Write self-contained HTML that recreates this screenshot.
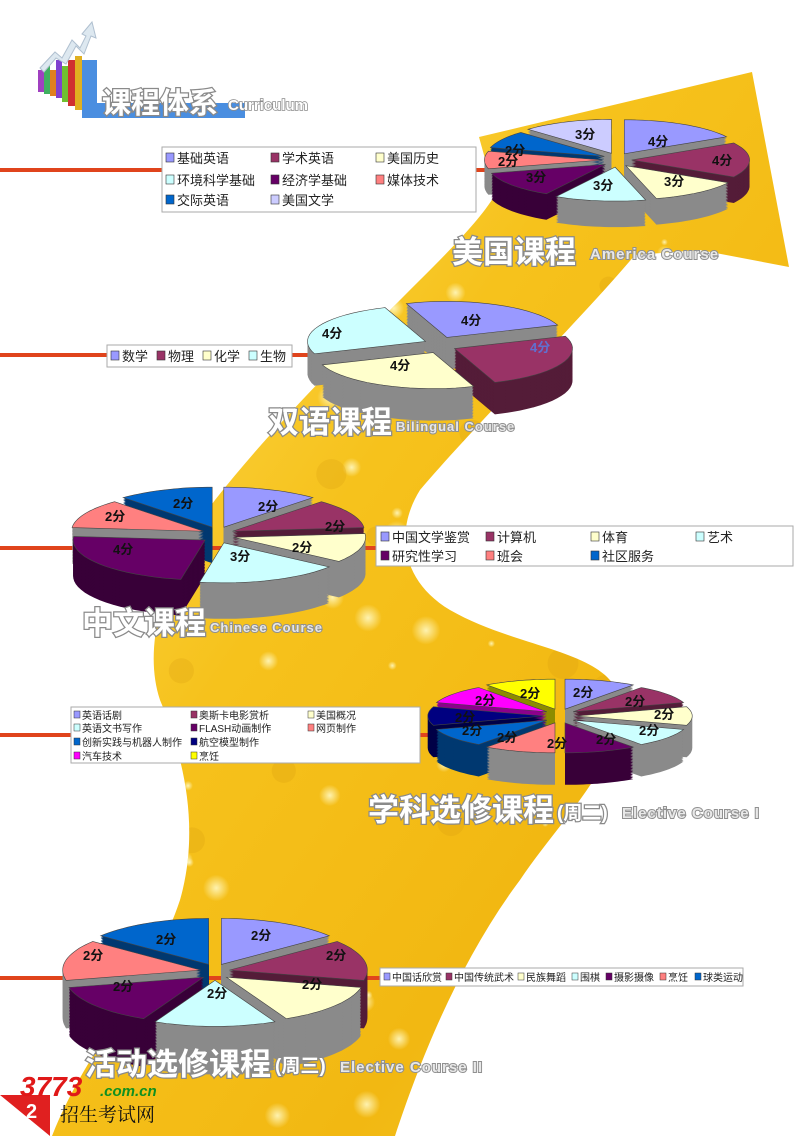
<!DOCTYPE html>
<html><head><meta charset="utf-8">
<style>
html,body{margin:0;padding:0;background:#fff;}
svg{display:block;}
.t{font-family:"Liberation Sans","Noto Sans CJK SC",sans-serif;font-weight:bold;fill:#fff;stroke:#8a8a8a;stroke-width:2.5px;paint-order:stroke;}
.e{font-family:"Liberation Sans",sans-serif;font-weight:bold;fill:#e8e8e8;stroke:#909090;stroke-width:2px;paint-order:stroke;letter-spacing:1px;}
.lg{font-family:"Liberation Sans","Noto Sans CJK SC",sans-serif;fill:#222;}
.pl{font-family:"Liberation Sans","Noto Sans CJK SC",sans-serif;font-weight:bold;font-size:13px;fill:#111;}
</style></head><body>
<svg id="s" width="800" height="1136" viewBox="0 0 800 1136" xmlns="http://www.w3.org/2000/svg">
<defs>
<linearGradient id="gold" x1="0" y1="0" x2="1" y2="1">
<stop offset="0" stop-color="#ffe060"/><stop offset="0.4" stop-color="#f6c21c"/><stop offset="0.7" stop-color="#f2b812"/><stop offset="1" stop-color="#f7cc30"/>
</linearGradient>
<radialGradient id="bk"><stop offset="0" stop-color="#fff8c0" stop-opacity="0.9"/><stop offset="1" stop-color="#fff8c0" stop-opacity="0"/></radialGradient>
<clipPath id="bc"><path id="bandp" d="M52,1136 C90,1040 150,990 180,900 C200,830 185,760 160,700 C140,640 170,560 215,500 C270,430 340,360 420,280 C450,250 480,220 495,195 L479,137 L752,72 L789,267 L700,250 L635,255 C580,320 480,420 420,490 C395,530 400,580 450,610 C520,650 610,650 620,700 C625,760 560,820 520,880 C460,960 420,1060 395,1136 Z"/></clipPath>
</defs>
<use href="#bandp" fill="url(#gold)"/>
<g id="bokeh" clip-path="url(#bc)"></g>

<!-- red lines -->
<g fill="#e0441c">
<rect x="0" y="168" width="500" height="4"/>
<rect x="0" y="353" width="320" height="4"/>
<rect x="0" y="546" width="390" height="4"/>
<rect x="0" y="733" width="445" height="4"/>
<rect x="0" y="976" width="390" height="4"/>
</g>

<!-- logo -->
<g>
<rect x="38" y="70" width="6" height="22" fill="#a040c0"/>
<rect x="44" y="66" width="6" height="28" fill="#40b060"/>
<rect x="50" y="70" width="6" height="26" fill="#e08020"/>
<rect x="56" y="60" width="6" height="38" fill="#8040d0"/>
<rect x="62" y="66" width="6" height="36" fill="#70c030"/>
<rect x="68" y="60" width="7" height="46" fill="#d03030"/>
<rect x="75" y="56" width="7" height="54" fill="#e0b020"/>
<path d="M82,60 L97,60 L97,103 L245,103 L245,118 L82,118 Z" fill="#4a8ee0"/>
<path d="M40,68 L55,52 L62,58 L72,40 L80,48 L86,36 L82,34 L92,22 L96,38 L91,36 L84,54 L76,46 L66,64 L56,58 L44,72 Z" fill="#dde8f0" stroke="#b0c0d0"/>
<text x="102" y="113" class="t" font-size="29">课程体系</text>
<text x="228" y="110" class="t" font-size="15" style="stroke-width:1.5px">Curriculum</text>
</g>

<g id="pies"></g>

<!-- pie labels -->
<g class="pl">
<text x="575" y="139">3分</text><text x="648" y="146">4分</text><text x="712" y="165">4分</text>
<text x="505" y="155">2分</text><text x="498" y="166">2分</text><text x="526" y="182">3分</text>
<text x="593" y="190">3分</text><text x="664" y="186">3分</text>
<text x="461" y="325">4分</text><text x="530" y="352" style="fill:#6070d0">4分</text><text x="322" y="338">4分</text><text x="390" y="370">4分</text>
<text x="258" y="511">2分</text><text x="325" y="531">2分</text><text x="292" y="552">2分</text><text x="230" y="561">3分</text>
<text x="113" y="554">4分</text><text x="105" y="521">2分</text><text x="173" y="508">2分</text>
<text x="573" y="697">2分</text><text x="625" y="706">2分</text><text x="654" y="719">2分</text><text x="639" y="735">2分</text>
<text x="596" y="744">2分</text><text x="547" y="748">2分</text><text x="497" y="742">2分</text><text x="462" y="735">2分</text>
<text x="455" y="722">2分</text><text x="475" y="705">2分</text><text x="520" y="698">2分</text>
<text x="251" y="940">2分</text><text x="326" y="960">2分</text><text x="302" y="989">2分</text><text x="207" y="998">2分</text>
<text x="113" y="991">2分</text><text x="83" y="960">2分</text><text x="156" y="944">2分</text>
</g>

<!-- legends -->
<g>
<rect x="162" y="147" width="314" height="65" fill="#fff" stroke="#aaa"/>
<g class="lg" font-size="13">
<rect x="166" y="153" width="8" height="9" fill="#9999ff" stroke="#333" stroke-width=".6"/><text x="177" y="163">基础英语</text>
<rect x="271" y="153" width="8" height="9" fill="#993366" stroke="#333" stroke-width=".6"/><text x="282" y="163">学术英语</text>
<rect x="376" y="153" width="8" height="9" fill="#ffffcc" stroke="#333" stroke-width=".6"/><text x="387" y="163">美国历史</text>
<rect x="166" y="175" width="8" height="9" fill="#ccffff" stroke="#333" stroke-width=".6"/><text x="177" y="185">环境科学基础</text>
<rect x="271" y="175" width="8" height="9" fill="#660066" stroke="#333" stroke-width=".6"/><text x="282" y="185">经济学基础</text>
<rect x="376" y="175" width="8" height="9" fill="#ff8080" stroke="#333" stroke-width=".6"/><text x="387" y="185">媒体技术</text>
<rect x="166" y="195" width="8" height="9" fill="#0066cc" stroke="#333" stroke-width=".6"/><text x="177" y="205">交际英语</text>
<rect x="271" y="195" width="8" height="9" fill="#ccccff" stroke="#333" stroke-width=".6"/><text x="282" y="205">美国文学</text>
</g>
<rect x="107" y="345" width="185" height="22" fill="#fff" stroke="#aaa"/>
<g class="lg" font-size="13">
<rect x="111" y="351" width="8" height="9" fill="#9999ff" stroke="#333" stroke-width=".6"/><text x="122" y="361">数学</text>
<rect x="157" y="351" width="8" height="9" fill="#993366" stroke="#333" stroke-width=".6"/><text x="168" y="361">物理</text>
<rect x="203" y="351" width="8" height="9" fill="#ffffcc" stroke="#333" stroke-width=".6"/><text x="214" y="361">化学</text>
<rect x="249" y="351" width="8" height="9" fill="#ccffff" stroke="#333" stroke-width=".6"/><text x="260" y="361">生物</text>
</g>
<rect x="376" y="526" width="417" height="40" fill="#fff" stroke="#aaa"/>
<g class="lg" font-size="13">
<rect x="381" y="532" width="8" height="9" fill="#9999ff" stroke="#333" stroke-width=".6"/><text x="392" y="542">中国文学鉴赏</text>
<rect x="486" y="532" width="8" height="9" fill="#993366" stroke="#333" stroke-width=".6"/><text x="497" y="542">计算机</text>
<rect x="591" y="532" width="8" height="9" fill="#ffffcc" stroke="#333" stroke-width=".6"/><text x="602" y="542">体育</text>
<rect x="696" y="532" width="8" height="9" fill="#ccffff" stroke="#333" stroke-width=".6"/><text x="707" y="542">艺术</text>
<rect x="381" y="551" width="8" height="9" fill="#660066" stroke="#333" stroke-width=".6"/><text x="392" y="561">研究性学习</text>
<rect x="486" y="551" width="8" height="9" fill="#ff8080" stroke="#333" stroke-width=".6"/><text x="497" y="561">班会</text>
<rect x="591" y="551" width="8" height="9" fill="#0066cc" stroke="#333" stroke-width=".6"/><text x="602" y="561">社区服务</text>
</g>
<rect x="71" y="707" width="349" height="56" fill="#fff" stroke="#aaa"/>
<g class="lg" font-size="10">
<rect x="74" y="711" width="6" height="7" fill="#9999ff" stroke="#333" stroke-width=".5"/><text x="82" y="719">英语话剧</text>
<rect x="191" y="711" width="6" height="7" fill="#993366" stroke="#333" stroke-width=".5"/><text x="199" y="719">奥斯卡电影赏析</text>
<rect x="308" y="711" width="6" height="7" fill="#ffffcc" stroke="#333" stroke-width=".5"/><text x="316" y="719">美国概况</text>
<rect x="74" y="724" width="6" height="7" fill="#ccffff" stroke="#333" stroke-width=".5"/><text x="82" y="732">英语文书写作</text>
<rect x="191" y="724" width="6" height="7" fill="#660066" stroke="#333" stroke-width=".5"/><text x="199" y="732">FLASH动画制作</text>
<rect x="308" y="724" width="6" height="7" fill="#ff8080" stroke="#333" stroke-width=".5"/><text x="316" y="732">网页制作</text>
<rect x="74" y="738" width="6" height="7" fill="#0066cc" stroke="#333" stroke-width=".5"/><text x="82" y="746">创新实践与机器人制作</text>
<rect x="191" y="738" width="6" height="7" fill="#000080" stroke="#333" stroke-width=".5"/><text x="199" y="746">航空模型制作</text>
<rect x="74" y="752" width="6" height="7" fill="#ff00ff" stroke="#333" stroke-width=".5"/><text x="82" y="760">汽车技术</text>
<rect x="191" y="752" width="6" height="7" fill="#ffff00" stroke="#333" stroke-width=".5"/><text x="199" y="760">烹饪</text>
</g>
<rect x="380" y="968" width="363" height="18" fill="#fff" stroke="#aaa"/>
<g class="lg" font-size="10" fill="#444">
<rect x="384" y="973" width="6" height="7" fill="#9999ff" stroke="#333" stroke-width=".5"/><text x="392" y="981">中国话欣赏</text>
<rect x="446" y="973" width="6" height="7" fill="#993366" stroke="#333" stroke-width=".5"/><text x="454" y="981">中国传统武术</text>
<rect x="518" y="973" width="6" height="7" fill="#ffffcc" stroke="#333" stroke-width=".5"/><text x="526" y="981">民族舞蹈</text>
<rect x="572" y="973" width="6" height="7" fill="#ccffff" stroke="#333" stroke-width=".5"/><text x="580" y="981">围棋</text>
<rect x="606" y="973" width="6" height="7" fill="#660066" stroke="#333" stroke-width=".5"/><text x="614" y="981">摄影摄像</text>
<rect x="660" y="973" width="6" height="7" fill="#ff8080" stroke="#333" stroke-width=".5"/><text x="668" y="981">烹饪</text>
<rect x="695" y="973" width="6" height="7" fill="#0066cc" stroke="#333" stroke-width=".5"/><text x="703" y="981">球类运动</text>
</g>
</g>

<!-- titles -->
<text x="452" y="263" class="t" font-size="31">美国课程</text>
<text x="590" y="259" class="e" font-size="15">America Course</text>
<text x="268" y="433" class="t" font-size="31">双语课程</text>
<text x="396" y="431" class="e" font-size="13">Bilingual Course</text>
<text x="82" y="634" class="t" font-size="31">中文课程</text>
<text x="210" y="632" class="e" font-size="13">Chinese Course</text>
<text x="368" y="821" class="t" font-size="31">学科选修课程</text>
<text x="557" y="819" class="t" font-size="19">(周二)</text>
<text x="622" y="818" class="e" font-size="15">Elective Course I</text>
<text x="85" y="1075" class="t" font-size="31">活动选修课程</text>
<text x="275" y="1072" class="t" font-size="19">(周三)</text>
<text x="340" y="1072" class="e" font-size="15">Elective Course II</text>

<!-- bottom logo -->
<path d="M0,1095 L50,1095 L50,1136 Z" fill="#e02020"/>
<text x="26" y="1118" font-family="Liberation Sans" font-weight="bold" font-size="20" fill="#fff">2</text>
<text x="20" y="1096" font-family="Liberation Sans" font-weight="bold" font-style="italic" font-size="28" fill="#e01818">3773</text>
<text x="100" y="1096" font-family="Liberation Sans" font-weight="bold" font-style="italic" font-size="15" fill="#109020">.com.cn</text>
<text x="60" y="1121" font-family="'Noto Serif CJK SC',serif" font-size="19" fill="#111">招生考试网</text>
</svg>
<script>
(function(){
var NS="http://www.w3.org/2000/svg";
// bokeh
var bk=document.getElementById('bokeh');var seed=7;function r(){seed=(seed*9301+49297)%233280;return seed/233280;}
for(var i=0;i<140;i++){var c=document.createElementNS(NS,'circle');c.setAttribute('cx',r()*800);c.setAttribute('cy',60+r()*1080);c.setAttribute('r',3+r()*12);c.setAttribute('fill','url(#bk)');bk.appendChild(c);}
for(var i=0;i<60;i++){var c=document.createElementNS(NS,'circle');c.setAttribute('cx',r()*800);c.setAttribute('cy',60+r()*1080);c.setAttribute('r',4+r()*14);c.setAttribute('fill','#d89a10');c.setAttribute('opacity',0.25);bk.appendChild(c);}
var g=document.getElementById('pies');
function side(hex){var n=parseInt(hex.slice(1),16),R=n>>16,G=(n>>8)&255,B=n&255;
 var l=(R+G+B)/3; if(l>170) return '#8a8a8a'; var f=0.55;return 'rgb('+Math.round(R*f)+','+Math.round(G*f)+','+Math.round(B*f)+')';}
function pie(cx,cy,rx,ry,d,ex,vals,cols,start){
 var tot=vals.reduce(function(a,b){return a+b},0),a=start,sl=[];
 for(var i=0;i<vals.length;i++){var s=a,e=a+vals[i]/tot*360;a=e;var m=(s+e)/2*Math.PI/180;
  sl.push({s:s,e:e,c:cols[i],ox:ex*Math.sin(m)*rx/ry*0.35,oy:-ex*Math.cos(m)*0.6,my:-Math.cos(m)});}
 sl.sort(function(p,q){return p.my-q.my;});
 sl.forEach(function(o){
  function path(dy){var x0=cx+o.ox,y0=cy+o.oy+dy,p='M'+x0+','+y0;
   for(var t=o.s;t<=o.e+0.01;t+=(o.e-o.s)/20){var rad=t*Math.PI/180;p+=' L'+(x0+rx*Math.sin(rad)).toFixed(1)+','+(y0-ry*Math.cos(rad)).toFixed(1);}
   return p+'Z';}
  var sc=side(o.c);
  for(var k=d;k>0;k-=1.5){var el=document.createElementNS(NS,'path');el.setAttribute('d',path(k));el.setAttribute('fill',sc);g.appendChild(el);}
  var tp=document.createElementNS(NS,'path');tp.setAttribute('d',path(0));tp.setAttribute('fill',o.c);tp.setAttribute('stroke','#444');tp.setAttribute('stroke-width','0.6');g.appendChild(tp);
 });
}
var C7=['#9999ff','#993366','#ffffcc','#ccffff','#660066','#ff8080','#0066cc'];
pie(617,160,118,34,26,12,[4,4,3,3,3,2,2,3],['#9999ff','#993366','#ffffcc','#ccffff','#660066','#ff8080','#0066cc','#ccccff'],0);
pie(440,345,118,36,32,14,[4,4,4,4],['#9999ff','#993366','#ffffcc','#ccffff'],-20);
pie(218,535,132,40,36,14,[2,2,2,3,4,2,2],C7,0);
pie(560,716,116,30,32,12,[2,2,2,2,2,2,2,2,2,2],['#9999ff','#993366','#ffffcc','#ccffff','#660066','#ff8080','#0066cc','#000080','#ff00ff','#ffff00'],0);
pie(215,972,138,46,48,14,[2,2,2,2,2,2,2],C7,0);
})();
</script>
</body></html>
